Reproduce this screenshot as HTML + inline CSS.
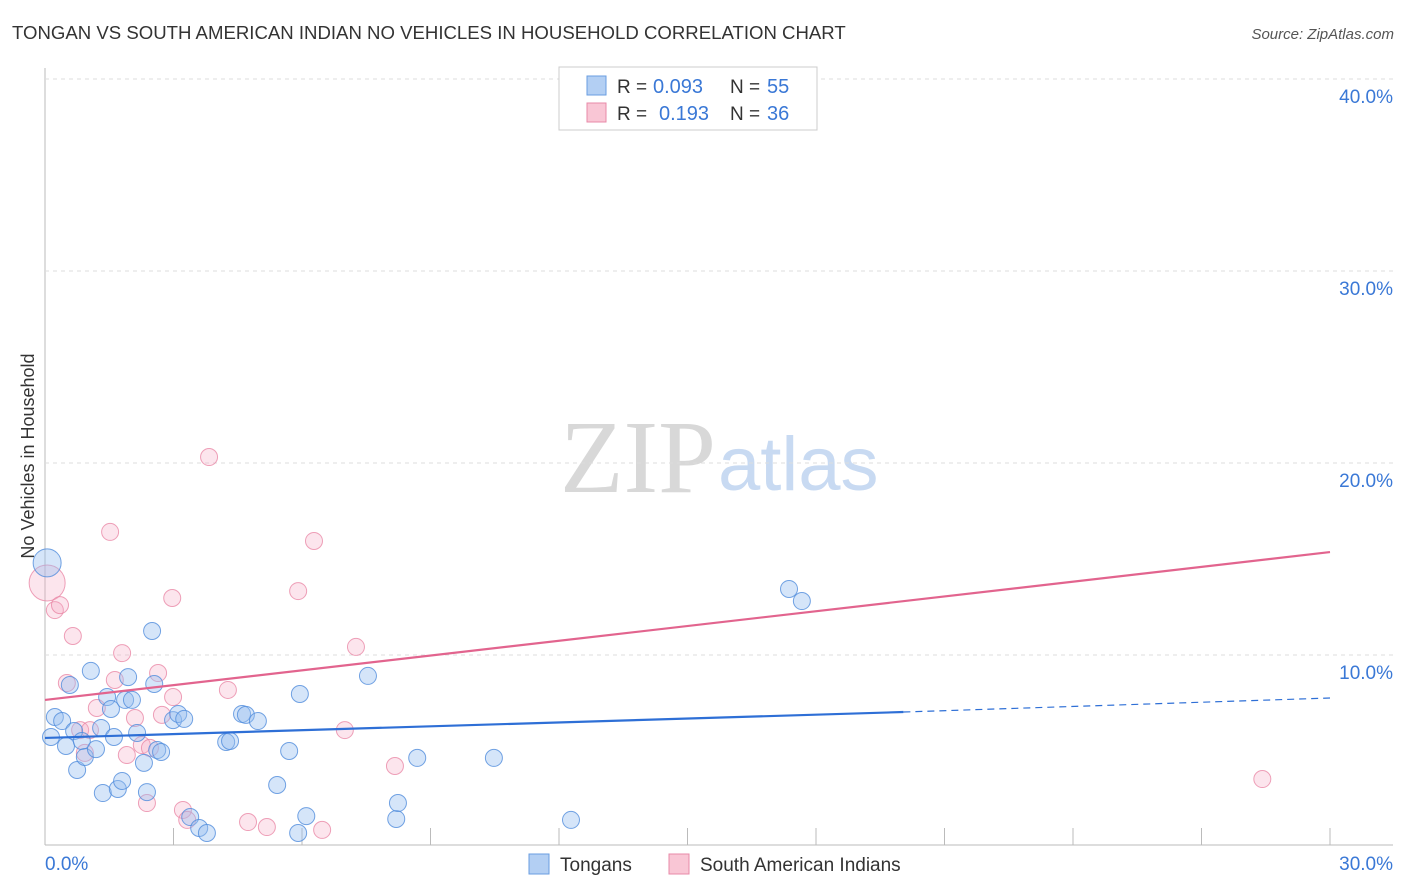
<!DOCTYPE html>
<html><head><meta charset="utf-8">
<style>
body{margin:0;background:#fff;font-family:"Liberation Sans",sans-serif;}
#wrap{position:relative;width:1406px;height:892px;overflow:hidden;}
</style></head>
<body>
<div id="wrap">
<svg id="svg" width="1406" height="892" xmlns="http://www.w3.org/2000/svg">
<text x="12" y="39" font-size="18.6" fill="#333">TONGAN VS SOUTH AMERICAN INDIAN NO VEHICLES IN HOUSEHOLD CORRELATION CHART</text>
<text x="1394" y="39" font-size="15" fill="#555" font-style="italic" text-anchor="end">Source: ZipAtlas.com</text>
<text x="716" y="492" font-size="104" fill="#d8d8d8" text-anchor="end" font-family="Liberation Serif,serif">ZIP</text>
<text x="718" y="490" font-size="76" fill="#c8daf2">atlas</text>
<text transform="translate(34,456) rotate(-90)" font-size="18" fill="#333" text-anchor="middle">No Vehicles in Household</text>
<g id="grid"></g><g id="marks"></g>
<g>
<rect x="559" y="67" width="258" height="63" fill="#fff" stroke="#ccc"/>
<rect x="587" y="76" width="19" height="19" fill="#b3cff3" stroke="#6a9ee0"/>
<rect x="587" y="103" width="19" height="19" fill="#f9c6d5" stroke="#e88aa8"/>
<text x="617" y="93" font-size="19" fill="#333">R =</text>
<text x="653" y="93" font-size="20" fill="#3a78d6">0.093</text>
<text x="730" y="93" font-size="19" fill="#333">N =</text>
<text x="767" y="93" font-size="20" fill="#3a78d6">55</text>
<text x="617" y="120" font-size="19" fill="#333">R =</text>
<text x="659" y="120" font-size="20" fill="#3a78d6">0.193</text>
<text x="730" y="120" font-size="19" fill="#333">N =</text>
<text x="767" y="120" font-size="20" fill="#3a78d6">36</text>
</g>
<g>
<rect x="529" y="854" width="20" height="20" fill="#b3cff3" stroke="#6a9ee0"/>
<text x="560" y="871" font-size="19" fill="#333">Tongans</text>
<rect x="669" y="854" width="20" height="20" fill="#f9c6d5" stroke="#e88aa8"/>
<text x="700" y="871" font-size="19" fill="#333">South American Indians</text>
</g>
</svg>
</div>
<script>
const yTicks=[10,20,30,40];
const yTickLabels=["10.0%","20.0%","30.0%","40.0%"];
const xTickLabels=["0.0%","30.0%"];
const tonganX=[0.05,0.14,0.23,0.40,0.49,0.58,0.68,0.75,0.86,0.93,1.07,1.19,1.31,1.35,1.45,1.54,1.61,1.70,1.80,1.87,1.94,2.03,2.15,2.31,2.38,2.50,2.55,2.62,2.71,2.99,3.11,3.25,3.39,3.60,3.78,4.23,4.32,4.60,4.69,4.97,5.42,5.70,5.91,5.95,6.10,7.54,8.20,8.24,8.69,10.48,12.28,17.37,17.67];
const tonganY=[14.8,5.73,6.77,6.56,5.26,8.44,6.04,4.01,5.52,4.69,9.17,5.10,6.20,2.81,7.81,7.19,5.73,3.02,3.44,7.66,8.85,7.66,5.94,4.38,2.86,11.25,8.49,5.05,4.95,6.61,6.93,6.67,1.56,0.99,0.73,5.47,5.52,6.93,6.88,6.56,3.23,5.00,0.73,7.97,1.61,8.91,1.46,2.29,4.64,4.64,1.41,13.44,12.81];
const saiX=[0.05,0.23,0.35,0.65,0.51,1.21,0.82,1.05,0.93,1.63,1.80,1.52,2.10,1.91,2.38,2.26,2.45,2.64,2.99,2.73,2.97,3.22,3.32,3.83,4.27,4.74,5.18,5.91,6.28,6.47,7.00,7.26,8.17,28.42];
const saiY=[13.75,12.34,12.60,10.99,8.54,7.24,6.09,6.09,4.90,8.70,10.10,16.41,6.72,4.79,2.29,5.31,5.16,9.06,7.81,6.88,12.97,1.93,1.41,20.31,8.18,1.30,1.04,13.33,15.94,0.89,6.09,10.42,4.22,3.54];
const tonganTrend=[5.68,7.03,7.76]; // at x=0, 20.04, 30
const saiTrend=[7.66,15.36]; // at x=0, 30
const X=v=>45+v/30*1285, Y=v=>847-v*19.2;
const NS="http://www.w3.org/2000/svg";
function mk(parent,tag,attrs){const e=document.createElementNS(NS,tag);for(const k in attrs)e.setAttribute(k,attrs[k]);document.getElementById(parent).appendChild(e);return e;}
let ax=mk('grid','line',{x1:45,y1:68,x2:45,y2:845,stroke:'#bbb'});


let bx=mk('grid','line',{x1:45,y1:845,x2:1393,y2:845,stroke:'#bbb'});


for(let i=1;i<=10;i++){const px=45+i*128.5;if(px>1340)break;let t=mk('grid','line',{x1:px,y1:828,x2:px,y2:845,stroke:'#bbb'});

}
yTicks.forEach((v,i)=>{let g=mk('grid','line',{x1:45,y1:Y(v),x2:1393,y2:Y(v),stroke:'#ddd','stroke-dasharray':'4,4'});


let t=mk('grid','text',{x:1393,y:Y(v)+24,'font-size':19,fill:'#3a78d6','text-anchor':'end'});t.textContent=yTickLabels[i];

});
let xl0=mk('grid','text',{x:45,y:870,'font-size':19,fill:'#3a78d6'});xl0.textContent=xTickLabels[0];


let xl1=mk('grid','text',{x:1393,y:870,'font-size':19,fill:'#3a78d6','text-anchor':'end'});xl1.textContent=xTickLabels[1];


saiX.forEach((x,i)=>{let c=mk('marks','circle',{cx:X(x),cy:Y(saiY[i]),r:i==0?18:8.5,fill:'rgba(246,170,195,0.3)',stroke:'rgba(232,130,162,0.75)','stroke-width':1});

});
tonganX.forEach((x,i)=>{let c=mk('marks','circle',{cx:X(x),cy:Y(tonganY[i]),r:i==0?14:8.5,fill:'rgba(150,190,240,0.4)',stroke:'rgba(80,140,220,0.8)','stroke-width':1});

});
let pl=mk('marks','line',{x1:X(0),y1:Y(saiTrend[0]),x2:X(30),y2:Y(saiTrend[1]),stroke:'#e2648e','stroke-width':2.2});


let tl=mk('marks','line',{x1:X(0),y1:Y(tonganTrend[0]),x2:X(20.04),y2:Y(tonganTrend[1]),stroke:'#2e6fd6','stroke-width':2.2});


let td=mk('marks','line',{x1:X(20.04),y1:Y(tonganTrend[1]),x2:X(30),y2:Y(tonganTrend[2]),stroke:'#2e6fd6','stroke-width':1.2,'stroke-dasharray':'7,5'});


</script>
</body></html>
